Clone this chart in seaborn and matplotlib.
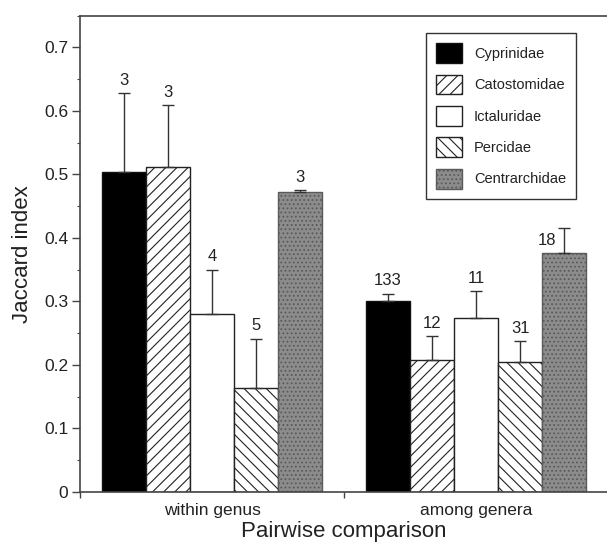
import numpy as np
import pandas as pd
import matplotlib
matplotlib.use("Agg")
import matplotlib.pyplot as plt
import seaborn as sns
from matplotlib.patches import Patch
from matplotlib.ticker import MultipleLocator, FixedLocator, FuncFormatter

# ---------------- DATA ----------------
groups = ["within genus", "among genera"]
families = ["Cyprinidae", "Catostomidae", "Ictaluridae", "Percidae", "Centrarchidae"]

within_mean = [0.504, 0.512, 0.280, 0.163, 0.472]
within_err = [0.124, 0.097, 0.070, 0.078, 0.003]
within_n = [3, 3, 4, 5, 3]

among_mean = [0.300, 0.208, 0.274, 0.204, 0.376]
among_err = [0.012, 0.037, 0.042, 0.033, 0.039]
among_n = [133, 12, 11, 31, 18]

# ---------------- STYLE ----------------
sns.set_style("ticks")
plt.rcParams["font.family"] = ["Liberation Sans", "DejaVu Sans"]
plt.rcParams["hatch.linewidth"] = 0.8

ink = "#222222"
face = {"Cyprinidae": "#000000", "Catostomidae": "#ffffff", "Ictaluridae": "#ffffff",
        "Percidae": "#ffffff", "Centrarchidae": "#8c8c8c"}
hatch = {"Cyprinidae": None, "Catostomidae": "///", "Ictaluridae": None,
         "Percidae": "\\\\\\", "Centrarchidae": "...."}
edge = {"Cyprinidae": "#111111", "Catostomidae": "#222222", "Ictaluridae": "#222222",
        "Percidae": "#222222", "Centrarchidae": "#5a5a5a"}

rows = []
for g, means, errs, ns in [(groups[0], within_mean, within_err, within_n),
                           (groups[1], among_mean, among_err, among_n)]:
    for f, m, e, n in zip(families, means, errs, ns):
        rows.append({"comparison": g, "family": f, "jaccard": m, "err": e, "n": n})
df = pd.DataFrame(rows)

# ---------------- PLOT ----------------
fig = plt.figure(figsize=(6.07, 5.47), dpi=100)
ax = fig.add_axes([80 / 607, 55 / 547, 528 / 607, 476.3 / 547])

sns.barplot(data=df, x="comparison", y="jaccard", hue="family",
            order=groups, hue_order=families, palette=face, saturation=1,
            width=0.837, errorbar=None, legend=False, linewidth=1.0,
            edgecolor=ink, ax=ax)

for fam, cont in zip(families, ax.containers):
    sub = df[df["family"] == fam].set_index("comparison").loc[groups]
    for bar in cont:
        bar.set_edgecolor(edge[fam])
        if hatch[fam]:
            bar.set_hatch(hatch[fam])
    xs = [b.get_x() + b.get_width() / 2 for b in cont]
    tops = sub["jaccard"].values
    errs = sub["err"].values
    ax.errorbar(xs, tops, yerr=[np.zeros(len(errs)), errs], fmt="none",
                ecolor="#333333", elinewidth=1.0, capsize=4, capthick=1.0, zorder=1)
    for x, t, e, n in zip(xs, tops, errs, sub["n"].values):
        if fam == "Centrarchidae" and n == 18:
            ax.annotate(str(n), (x, t + e), xytext=(-6, -3), textcoords="offset points",
                        ha="right", va="top", fontsize=12, color=ink)
        else:
            ax.annotate(str(n), (x, t + e), xytext=(0, 4), textcoords="offset points",
                        ha="center", va="bottom", fontsize=12, color=ink)

# axes
ax.set_ylim(0, 0.75)
ax.set_xlim(-0.5, 1.5)
ax.yaxis.set_major_locator(MultipleLocator(0.1))
ax.yaxis.set_minor_locator(MultipleLocator(0.05))
ax.yaxis.set_major_formatter(FuncFormatter(lambda v, _: "0" if abs(v) < 1e-9 else f"{v:.1f}"))
ax.xaxis.set_minor_locator(FixedLocator([-0.5, 0.5, 1.5]))

ax.tick_params(axis="y", which="major", direction="out", length=5.5, width=1,
               labelsize=12.5, colors="#444444", labelcolor=ink, pad=3)
ax.tick_params(axis="y", which="minor", direction="out", length=2.5, width=0.8, colors="#444444")
ax.tick_params(axis="x", which="major", length=0, labelsize=12.5, labelcolor=ink, pad=8)
ax.tick_params(axis="x", which="minor", direction="out", length=4.5, width=1, colors="#444444")

for side in ["left", "top", "bottom"]:
    ax.spines[side].set_visible(True)
    ax.spines[side].set_color("#444444")
    ax.spines[side].set_linewidth(1.2)
ax.spines["right"].set_visible(False)

ax.set_xlabel("Pairwise comparison", fontsize=16, color=ink, labelpad=2)
ax.set_ylabel("Jaccard index", fontsize=16, color=ink, labelpad=8)

handles = [Patch(facecolor=face[f], edgecolor=edge[f], hatch=hatch[f], linewidth=1.0)
           for f in families]
leg = ax.legend(handles, families, loc="upper left", bbox_to_anchor=(0.655, 0.964),
                borderaxespad=0, fontsize=10.5, handlelength=1.78, handleheight=1.71,
                labelspacing=0.8, handletextpad=0.82, borderpad=0.7,
                fancybox=False, framealpha=1, edgecolor="#333333")
leg.get_frame().set_linewidth(1.0)
for t in leg.get_texts():
    t.set_color(ink)

fig.savefig("out.png", dpi=100, facecolor="white")
